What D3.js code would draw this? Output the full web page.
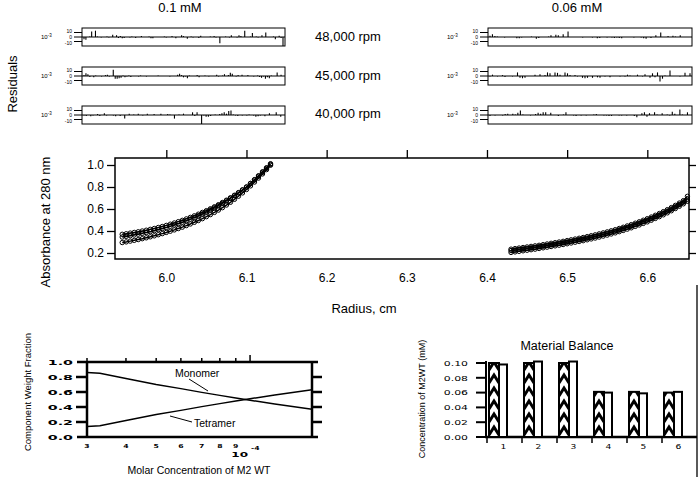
<!DOCTYPE html>
<html>
<head>
<meta charset="utf-8">
<title>Sedimentation equilibrium, M2 WT</title>
<script src="https://cdn.jsdelivr.net/npm/d3@7"></script>
<style>
  body { margin: 0; background: #fff; }
  svg { display: block; font-family: "Liberation Sans", Arial, sans-serif; }
</style>
</head>
<body>
<svg id="fig" width="700" height="477"></svg>
<script>
// ---- absorbance scans (cm, A280)
var radiusLeft = [5.945,5.950,5.955,5.960,5.965,5.970,5.975,5.980,5.985,5.990,5.995,6.000,6.005,6.010,6.015,6.020,6.025,6.030,6.035,6.040,6.045,6.050,6.055,6.060,6.065,6.070,6.075,6.080,6.085,6.090,6.095,6.100,6.105,6.110,6.115,6.120,6.125,6.130];
var absLeft48 = [0.370,0.375,0.381,0.387,0.393,0.400,0.407,0.415,0.423,0.432,0.441,0.451,0.462,0.473,0.485,0.497,0.510,0.524,0.538,0.553,0.569,0.585,0.602,0.620,0.639,0.659,0.680,0.702,0.725,0.749,0.774,0.800,0.833,0.867,0.902,0.938,0.975,1.012];
var absLeft45 = [0.345,0.351,0.357,0.364,0.371,0.378,0.386,0.394,0.403,0.412,0.422,0.432,0.443,0.455,0.467,0.480,0.494,0.508,0.523,0.539,0.556,0.574,0.592,0.611,0.631,0.652,0.674,0.697,0.721,0.746,0.772,0.799,0.831,0.864,0.898,0.934,0.970,1.005];
var absLeft40 = [0.295,0.301,0.308,0.315,0.322,0.330,0.338,0.347,0.356,0.366,0.376,0.387,0.398,0.410,0.422,0.435,0.449,0.464,0.479,0.495,0.512,0.530,0.549,0.569,0.590,0.612,0.636,0.661,0.688,0.716,0.746,0.777,0.810,0.845,0.881,0.919,0.958,0.998];

var radiusRight = [6.430,6.435,6.440,6.445,6.450,6.455,6.460,6.465,6.470,6.475,6.480,6.485,6.490,6.495,6.500,6.505,6.510,6.515,6.520,6.525,6.530,6.535,6.540,6.545,6.550,6.555,6.560,6.565,6.570,6.575,6.580,6.585,6.590,6.595,6.600,6.605,6.610,6.615,6.620,6.625,6.630,6.635,6.640,6.645,6.650];
var absRight48 = [0.235,0.240,0.245,0.250,0.255,0.260,0.265,0.270,0.276,0.282,0.288,0.294,0.300,0.306,0.313,0.320,0.327,0.334,0.341,0.349,0.357,0.365,0.374,0.383,0.392,0.402,0.412,0.423,0.434,0.446,0.458,0.471,0.484,0.498,0.512,0.527,0.543,0.559,0.576,0.594,0.613,0.633,0.654,0.676,0.715];
var absRight45 = [0.222,0.227,0.232,0.237,0.242,0.247,0.252,0.257,0.263,0.269,0.275,0.281,0.287,0.293,0.300,0.307,0.314,0.321,0.328,0.336,0.344,0.352,0.361,0.370,0.379,0.389,0.399,0.410,0.421,0.433,0.445,0.458,0.471,0.485,0.499,0.514,0.530,0.546,0.563,0.581,0.600,0.620,0.641,0.663,0.690];
var absRight40 = [0.205,0.210,0.215,0.220,0.225,0.230,0.235,0.241,0.247,0.253,0.259,0.265,0.271,0.277,0.284,0.291,0.298,0.305,0.312,0.320,0.328,0.336,0.345,0.354,0.363,0.373,0.383,0.394,0.405,0.417,0.429,0.442,0.455,0.469,0.483,0.498,0.514,0.530,0.547,0.565,0.584,0.604,0.625,0.647,0.670];

// ---- fit residuals (x 10^-3)
var resL48 = [-5,-6,0,1,12,0,14,1,0,-1,0,0,1,-1,0,5,0,4,-2,2,-3,-2,0,0,-1,1,0,-2,0,0,2,0,0,0,1,-3,-3,0,0,0,0,0,1,-1,0,0,2,0,-3,0,0,4,2,0,-4,0,1,-1,0,0,-2,3,0,0,0,0,1,0,2,-1,0,-14,0,0,1,0,-1,4,0,0,-1,4,2,0,14,0,0,1,9,0,1,-1,0,4,0,10,0,0,0,1,-5,0,3,-2,-20];
var resL45 = [2,6,4,-2,0,-3,1,0,0,-1,0,2,3,-1,0,14,-6,-6,-5,-4,1,-3,-1,1,-2,0,0,0,-1,1,0,0,-1,0,0,0,0,0,1,0,0,0,0,0,-1,0,0,0,3,5,2,-3,-1,-5,1,0,0,0,2,-3,0,0,1,0,-1,0,0,0,3,-1,0,1,4,0,2,7,5,0,-1,2,0,3,0,0,2,0,0,-1,0,1,-2,-4,-1,-6,-3,-5,1,0,0,8,0,3,0];
var resL40 = [-1,-2,0,-3,-1,0,2,-2,0,4,-1,0,0,-1,-3,0,-2,0,-8,0,3,0,1,0,3,0,-1,0,3,0,0,2,0,0,3,0,0,2,1,0,-8,0,1,0,3,0,0,0,6,-2,6,0,-20,-1,-4,-4,-2,0,1,0,2,4,6,3,9,10,1,-1,-2,0,-1,0,-1,1,0,-1,-4,-3,-1,0,-3,0,4,0,0,6,0,-4,0];
var resR48 = [3,6,2,1,0,0,-1,0,0,0,0,-3,-3,-1,0,0,0,1,0,-4,-2,0,0,0,1,4,0,5,4,0,6,0,12,0,0,0,0,0,-1,0,0,0,-1,0,-3,-2,0,0,-1,0,-1,-2,-1,-2,-3,0,0,0,0,-1,0,0,-1,-3,-4,0,-2,0,4,0,10,0,0,2,0,3,1,0,4,0,0,0,0];
var resR45 = [-1,3,0,-1,0,2,-2,0,0,-1,0,8,-4,-5,-4,0,0,0,3,0,4,0,2,8,6,0,8,7,3,0,8,6,2,0,2,-1,0,-4,-5,-4,0,-4,0,-3,-4,0,-1,0,-3,0,0,0,-1,0,-1,3,1,0,0,3,0,-1,4,0,-4,6,-3,8,-12,-6,1,0,12,0,0,0,-1,0,7,0,6];
var resR40 = [-2,0,-1,0,0,-1,2,3,0,3,1,5,10,1,0,0,-1,0,2,5,3,6,6,0,5,0,0,-2,0,1,6,0,0,-1,-2,0,-1,0,-1,0,0,1,2,0,0,-1,-1,-2,-2,0,0,-1,-1,0,-1,0,0,-2,-5,0,4,6,-4,4,0,6,1,0,4,0,1,-1,7,3,0,12,1,0,6,0];
var speeds = ["48,000 rpm", "45,000 rpm", "40,000 rpm"];
var resTicks = [10, 0, -10];

// ---- species distribution
var concM2 = [3e-5,3.3e-5,4e-5,5e-5,6e-5,7e-5,8e-5,9e-5,1e-4,1.2e-4,1.58e-4];
var monomerFrac = [0.86,0.85,0.78,0.70,0.645,0.595,0.555,0.52,0.49,0.44,0.37];
var tetramerFrac = [0.14,0.15,0.22,0.30,0.355,0.405,0.445,0.48,0.51,0.56,0.63];
var concTicks = [3e-5,4e-5,5e-5,6e-5,7e-5,8e-5,9e-5];
var concTickLabels = ["3","4","5","6","7","8","9"];

// ---- material balance (mM)
var samples = [1,2,3,4,5,6];
var balanceA = [0.100,0.100,0.100,0.061,0.061,0.060];
var balanceB = [0.098,0.102,0.102,0.060,0.059,0.061];

var svg = d3.select("#fig");

function txt(x, y, s, size, anchor) {
  return svg.append("text").attr("x", x).attr("y", y)
    .attr("font-size", size).attr("text-anchor", anchor || "middle").text(s);
}
// squat wide labels like the old plotting font
function wide(x, y, s, size, sx, anchor, bold) {
  svg.append("text")
    .attr("transform", "translate(" + x + "," + y + ") scale(" + sx + ",1)")
    .attr("font-family", "DejaVu Sans")
    .attr("font-weight", bold ? "bold" : "normal")
    .attr("font-size", size).attr("text-anchor", anchor).text(s);
}
function vtext(x, y, s, size) {
  svg.append("text").attr("transform", "translate(" + x + "," + y + ") rotate(-90)")
    .attr("font-size", size).attr("text-anchor", "middle").text(s);
}

//
// Residual strips
//
txt(180, 12, "0.1 mM", 13);
txt(577, 12, "0.06 mM", 13);
vtext(16.5, 84, "Residuals", 13);
speeds.forEach(function(s, i) { txt(348, 41 + i * 38.5, s, 13); });

var strips = [
  {x0: 82, x1: 285, y0: 28, data: resL48},
  {x0: 82, x1: 285, y0: 67, data: resL45},
  {x0: 82, x1: 285, y0: 106, data: resL40},
  {x0: 488, x1: 692, y0: 28, data: resR48},
  {x0: 488, x1: 692, y0: 67, data: resR45},
  {x0: 488, x1: 692, y0: 106, data: resR40}
];

strips.forEach(function(p) {
  var g = svg.append("g");
  var rx = d3.scaleLinear().domain([0, p.data.length - 1]).range([p.x0 + 2, p.x1 - 2]);
  var ry = d3.scaleLinear().domain([-20, 20]).range([p.y0 + 18, p.y0]);
  g.append("rect").attr("x", p.x0).attr("y", p.y0).attr("width", p.x1 - p.x0).attr("height", 18)
    .attr("fill", "none").attr("stroke", "#000").attr("stroke-width", 1);
  g.append("line").attr("x1", p.x0).attr("x2", p.x1).attr("y1", ry(0)).attr("y2", ry(0))
    .attr("stroke", "#000").attr("stroke-width", 1);
  g.selectAll(".r").data(p.data).enter().append("line")
    .attr("x1", function(d, i) { return rx(i); }).attr("x2", function(d, i) { return rx(i); })
    .attr("y1", ry(0)).attr("y2", function(d) { return ry(d); })
    .attr("stroke", "#000").attr("stroke-width", 1.1);
  // tick labels are staggered so the three fit beside the narrow strip
  resTicks.forEach(function(t, k) {
    g.append("line").attr("x1", p.x0 - 8).attr("x2", p.x0).attr("y1", ry(t)).attr("y2", ry(t))
      .attr("stroke", "#000").attr("stroke-width", 1);
    g.append("text").attr("x", p.x0 - 10).attr("y", ry(t) + 0.5 + k * 1.5).attr("font-size", 5)
      .attr("text-anchor", "end").text(t);
  });
  var e = g.append("text").attr("x", p.x0 - 41).attr("y", ry(0) + 2).attr("font-size", 6);
  e.append("tspan").text("10");
  e.append("tspan").attr("dy", -2).attr("font-size", 4.5).text("-3");
});

//
// Absorbance vs radius
//
var x = d3.scaleLinear().domain([5.936, 6.652]).range([115, 689]);
var y = d3.scaleLinear().domain([0.2, 1.0]).range([253, 165]);
var radTicks = [6.0, 6.1, 6.2, 6.3, 6.4, 6.5, 6.6];
var absTicks = [0.2, 0.4, 0.6, 0.8, 1.0];

svg.append("g").attr("transform", "translate(0,158)")
  .call(d3.axisTop(x).tickValues(radTicks).tickSize(8).tickFormat(""))
  .call(function(g) { g.select(".domain").remove(); g.selectAll("line").attr("stroke-width", 1.3); });
svg.append("g").attr("transform", "translate(0,259)")
  .call(d3.axisBottom(x).tickValues(radTicks).tickSize(0).tickPadding(14).tickFormat(d3.format(".1f")))
  .call(function(g) { g.select(".domain").remove(); g.selectAll("text").attr("font-size", 12).attr("font-family", "Liberation Sans, Arial"); });
svg.append("g").attr("transform", "translate(115,0)")
  .call(d3.axisLeft(y).tickValues(absTicks).tickSize(8).tickPadding(3).tickFormat(d3.format(".1f")))
  .call(function(g) { g.select(".domain").remove(); g.selectAll("line").attr("stroke-width", 1.3);
    g.selectAll("text").attr("font-size", 12).attr("font-family", "Liberation Sans, Arial"); });
svg.append("g").attr("transform", "translate(689,0)")
  .call(d3.axisRight(y).tickValues(absTicks).tickSize(7).tickFormat(""))
  .call(function(g) { g.select(".domain").remove(); g.selectAll("line").attr("stroke-width", 1.3); });
svg.append("rect").attr("x", 115).attr("y", 158).attr("width", 574).attr("height", 101)
  .attr("fill", "none").attr("stroke", "#000").attr("stroke-width", 1.5);

var scans = [
  {r: radiusLeft, a: absLeft48}, {r: radiusLeft, a: absLeft45}, {r: radiusLeft, a: absLeft40},
  {r: radiusRight, a: absRight48}, {r: radiusRight, a: absRight45}, {r: radiusRight, a: absRight40}
];
var scanLine = d3.line().curve(d3.curveMonotoneX)
  .x(function(d) { return x(d[0]); }).y(function(d) { return y(d[1]); });
scans.forEach(function(s) {
  var pts = s.r.map(function(r, i) { return [r, s.a[i]]; });
  svg.append("g").selectAll("circle").data(pts).enter().append("circle")
    .attr("cx", function(d) { return x(d[0]); }).attr("cy", function(d) { return y(d[1]); })
    .attr("r", 2.2).attr("fill", "none").attr("stroke", "#000").attr("stroke-width", 1);
  svg.append("path").attr("d", scanLine(pts)).attr("fill", "none")
    .attr("stroke", "#000").attr("stroke-width", 1.5);
});

vtext(49.5, 222, "Absorbance at 280 nm", 13);
txt(364, 313, "Radius, cm", 13);
svg.append("line").attr("x1", 697).attr("x2", 697).attr("y1", 285).attr("y2", 477)
  .attr("stroke", "#000").attr("stroke-width", 1.3);

//
// Component weight fraction
//
var xl = d3.scaleLog().domain([3e-5, 1.58e-4]).range([87, 312]);
var yl = d3.scaleLinear().domain([0, 1]).range([437, 362]);
var heavy = 2.5;

[0, 1].forEach(function(v) {
  svg.append("line").attr("x1", 77).attr("x2", 318).attr("y1", yl(v)).attr("y2", yl(v))
    .attr("stroke", "#000").attr("stroke-width", heavy);
});
[87, 312].forEach(function(px) {
  svg.append("line").attr("x1", px).attr("x2", px).attr("y1", yl(1)).attr("y2", yl(0))
    .attr("stroke", "#000").attr("stroke-width", heavy);
});
[0.2, 0.4, 0.6, 0.8].forEach(function(v) {
  svg.append("line").attr("x1", 76).attr("x2", 87).attr("y1", yl(v)).attr("y2", yl(v))
    .attr("stroke", "#000").attr("stroke-width", heavy);
  svg.append("line").attr("x1", 312).attr("x2", 322).attr("y1", yl(v)).attr("y2", yl(v))
    .attr("stroke", "#000").attr("stroke-width", heavy);
});
[0, 0.2, 0.4, 0.6, 0.8, 1].forEach(function(v) {
  wide(73, yl(v) + 2.8, d3.format(".1f")(v), 7.5, 1.9, "end", true);
});
concTicks.forEach(function(c, i) {
  svg.append("line").attr("x1", xl(c)).attr("x2", xl(c)).attr("y1", yl(1) - 4).attr("y2", yl(1))
    .attr("stroke", "#000").attr("stroke-width", 1.5);
  wide(xl(c), 448, concTickLabels[i], 5.5, 1.4, "middle", true);
});
svg.append("line").attr("x1", xl(1e-4)).attr("x2", xl(1e-4)).attr("y1", yl(1) - 7).attr("y2", yl(1))
  .attr("stroke", "#000").attr("stroke-width", 1.5);
wide(248, 456.5, "10", 7.5, 1.6, "end", true);
wide(251, 450, "-4", 5.5, 1.4, "start", true);

var fracLine = d3.line().x(function(d) { return xl(d[0]); }).y(function(d) { return yl(d[1]); });
[monomerFrac, tetramerFrac].forEach(function(f) {
  svg.append("path").attr("d", fracLine(concM2.map(function(c, i) { return [c, f[i]]; })))
    .attr("fill", "none").attr("stroke", "#000").attr("stroke-width", 1.5);
});
txt(175, 377, "Monomer", 10.5, "start");
svg.append("line").attr("x1", 189).attr("x2", 208).attr("y1", 379).attr("y2", 391).attr("stroke", "#000");
txt(194, 427, "Tetramer", 10.5, "start");
svg.append("line").attr("x1", 170).attr("x2", 192).attr("y1", 416).attr("y2", 422).attr("stroke", "#000");

vtext(31, 392, "Component Weight Fraction", 9.5);
txt(199, 474, "Molar Concentration of M2 WT", 10.5);

//
// Material balance bars
//
var xb = d3.scaleBand().domain(samples).range([486, 696]).padding(0);
var yb = d3.scaleLinear().domain([0, 0.1]).range([437, 363]);
var defs = svg.append("defs");

txt(567, 350, "Material Balance", 12.5);
vtext(425, 399, "Concentration of M2WT (mM)", 9);

[0, 0.02, 0.04, 0.06, 0.08, 0.1].forEach(function(v) {
  svg.append("line").attr("x1", 476).attr("x2", 486).attr("y1", yb(v)).attr("y2", yb(v))
    .attr("stroke", "#000").attr("stroke-width", 2);
  wide(468, yb(v) + 2.8, d3.format(".2f")(v), 7.5, 1.45, "end", false);
});
svg.append("line").attr("x1", 486).attr("x2", 486).attr("y1", 361).attr("y2", 438)
  .attr("stroke", "#000").attr("stroke-width", 2);
svg.append("line").attr("x1", 485).attr("x2", 697).attr("y1", 437).attr("y2", 437)
  .attr("stroke", "#000").attr("stroke-width", 2.5);

samples.forEach(function(s, i) {
  var bx = xb(s) + 3;
  var pid = "chev" + s;
  var pat = defs.append("pattern").attr("id", pid).attr("patternUnits", "userSpaceOnUse")
    .attr("x", bx).attr("y", yb(0)).attr("width", 10).attr("height", 13);
  pat.append("rect").attr("width", 10).attr("height", 13).attr("fill", "#fff");
  pat.append("path").attr("d", "M0,11 L5,3 L10,11").attr("fill", "none")
    .attr("stroke", "#000").attr("stroke-width", 3);

  svg.append("line").attr("x1", xb(s) + 1).attr("x2", xb(s) + 1).attr("y1", 437).attr("y2", 443)
    .attr("stroke", "#000").attr("stroke-width", 1.5);
  wide(xb(s) + xb.bandwidth() / 2, 448.5, String(s), 7, 1.3, "middle", false);

  svg.append("rect").attr("x", bx).attr("y", yb(balanceA[i])).attr("width", 10)
    .attr("height", yb(0) - yb(balanceA[i]))
    .attr("fill", "url(#" + pid + ")").attr("stroke", "#000").attr("stroke-width", 2);
  svg.append("rect").attr("x", bx + 10).attr("y", yb(balanceB[i])).attr("width", 8)
    .attr("height", yb(0) - yb(balanceB[i]))
    .attr("fill", "#fff").attr("stroke", "#000").attr("stroke-width", 2);
});
</script>
</body>
</html>
